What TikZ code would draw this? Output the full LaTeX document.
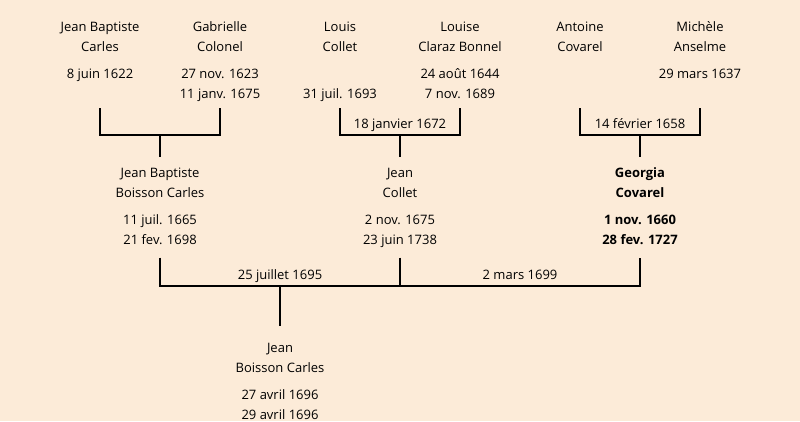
\documentclass[tikz,border=0pt]{standalone}
\usepackage{fontspec}
\setmainfont{Open Sans}
\definecolor{parchment}{RGB}{252,235,216}
\newcommand{\fourlines}[4]{\strut#1\\\strut#2\\[7pt]\strut#3\\\strut#4}
\tikzset{
  person/.style = {align=center, inner sep=0pt, outer ysep=3.5pt, font=\fontsize{13}{20}\selectfont},
  wedding/.style = {inner sep=0pt, above=6pt, text depth=0pt, font=\fontsize{13}{20}\selectfont},
  link/.style = {line width=2pt}
}
\begin{document}
\begin{tikzpicture}[x=1pt, y=-1pt]
\fill[parchment] (0,0) rectangle (800,421);
\useasboundingbox (0,0) rectangle (800,421);
% grandparents
\node[person] (jbc) at (100,61) {\fourlines{Jean Baptiste}{Carles}{8 juin 1622}{}};
\node[person] (gc) at (220,61) {\fourlines{Gabrielle}{Colonel}{27 nov. 1623}{11 janv. 1675}};
\node[person] (lc) at (340,61) {\fourlines{Louis}{Collet}{}{31 juil. 1693}};
\node[person] (lcb) at (460,61) {\fourlines{Louise}{Claraz Bonnel}{24 août 1644}{7 nov. 1689}};
\node[person] (ac) at (580,61) {\fourlines{Antoine}{Covarel}{}{}};
\node[person] (ma) at (700,61) {\fourlines{Michèle}{Anselme}{29 mars 1637}{}};
% parents
\node[person, outer ysep=7pt] (jbbc) at (160,207) {\fourlines{Jean Baptiste}{Boisson Carles}{11 juil. 1665}{21 fev. 1698}};
\node[person, outer ysep=7pt] (jcl) at (400,207) {\fourlines{Jean}{Collet}{2 nov. 1675}{23 juin 1738}};
\node[person, outer ysep=7pt, font=\fontsize{13}{20}\selectfont\bfseries] (gco) at (640,207) {\fourlines{Georgia}{Covarel}{1 nov. 1660}{28 fev. 1727}};
% child
\node[person, outer ysep=12.5pt] (jbc3) at (280,382) {\fourlines{Jean}{Boisson Carles}{27 avril 1696}{29 avril 1696}};
% marriages
\coordinate (m1) at (160,135);
\coordinate (m2) at (400,135);
\coordinate (m3) at (640,135);
\coordinate (m4) at (280,286);
\coordinate (m5) at (520,286);
\draw[link] (jbc.south) |- (m1) -| (gc.south);
\draw[link] (m1) -- (jbbc.north);
\draw[link] (lc.south) |- (m2) node[wedding] {18 janvier 1672} -| (lcb.south);
\draw[link] (m2) -- (jcl.north);
\draw[link] (ac.south) |- (m3) node[wedding] {14 février 1658} -| (ma.south);
\draw[link] (m3) -- (gco.north);
\draw[link] (jbbc.south) |- (m4) node[wedding] {25 juillet 1695} -| (jcl.south);
\draw[link] (jcl.south) |- (m5) node[wedding] {2 mars 1699} -| (gco.south);
\draw[link] (m4) -- (jbc3.north);
\end{tikzpicture}
\end{document}
